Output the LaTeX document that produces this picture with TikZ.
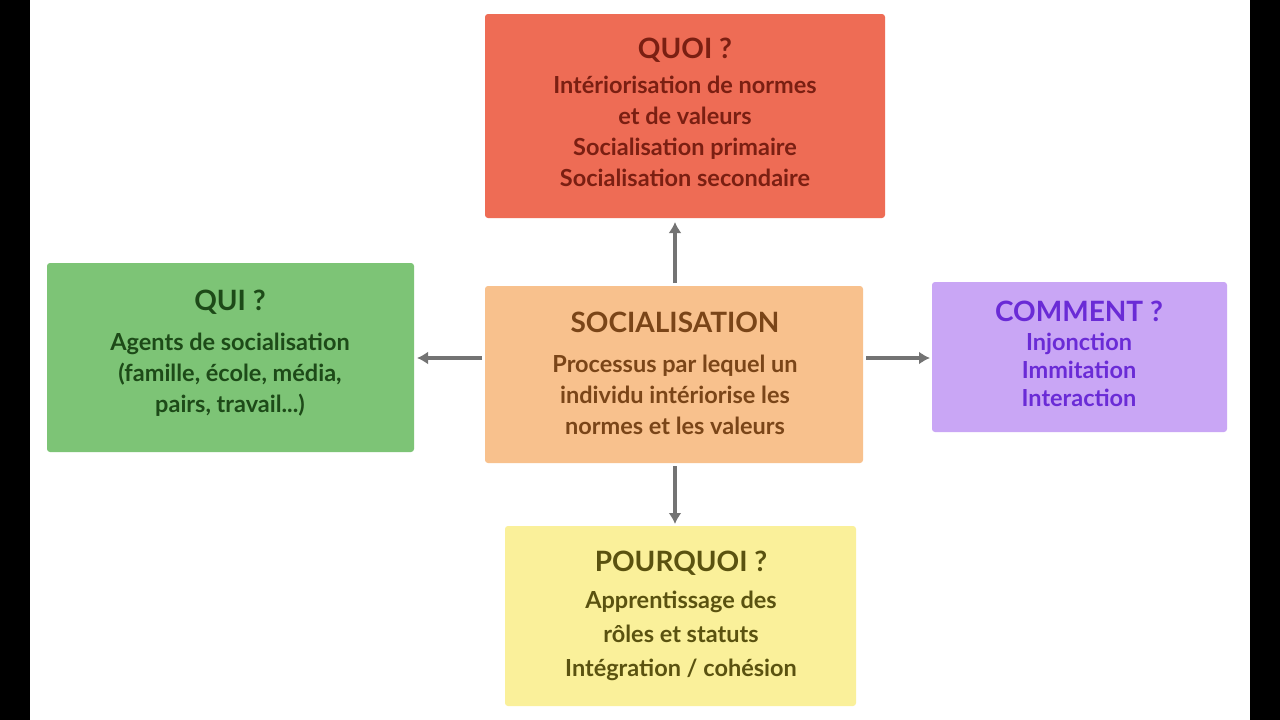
\documentclass[tikz,border=0pt]{standalone}
\usepackage{fontspec}
\setmainfont{Lato}
\begin{document}
\begin{tikzpicture}[x=1pt,y=-1pt,
  box/.style={rounded corners=3pt,inner sep=0pt},
  ttl/.style={font=\fontsize{28}{32}\selectfont\bfseries,align=center},
  bod/.style={font=\fontsize{23.5}{31}\selectfont\bfseries,align=center},
  arr/.style={draw=gray!90!black,line width=4pt,-{Latex[length=11pt,width=13pt]}}]
\usetikzlibrary{arrows.meta}
\useasboundingbox (0,0) rectangle (1280,720);
\fill[white] (0,0) rectangle (1280,720);
\fill[black] (0,0) rectangle (30,720);
\fill[black] (1250,0) rectangle (1280,720);
\definecolor{cq}{HTML}{EE6C55}\definecolor{tq}{HTML}{7A1F12}
\definecolor{cs}{HTML}{F8C18D}\definecolor{ts}{HTML}{7A4518}
\definecolor{cg}{HTML}{7DC476}\definecolor{tg}{HTML}{1D4A18}
\definecolor{cp}{HTML}{C9A6F5}\definecolor{tp}{HTML}{6A2BD6}
\definecolor{cy}{HTML}{FAF09A}\definecolor{ty}{HTML}{5A5210}
\fill[cq,box] (485,14) rectangle (885,218);
\fill[cs,box] (485,286) rectangle (863,463);
\fill[cg,box] (47,263) rectangle (414,452);
\fill[cp,box] (932,282) rectangle (1227,432);
\fill[cy,box] (505,526) rectangle (856,706);
\coordinate (qb) at (675,218); \coordinate (st) at (675,286);
\coordinate (sb) at (675,463); \coordinate (yt) at (675,526);
\coordinate (sl) at (485,358); \coordinate (gr) at (414,358);
\coordinate (sr) at (863,358); \coordinate (pl) at (932,358);
\draw[arr] (675,283) -- (675,222);
\draw[arr] (675,466) -- (675,524);
\draw[arr] (482,358) -- (417,358);
\draw[arr] (866,358) -- (930,358);
\node[ttl,text=tq] (q1) at (685,50) {QUOI ?};
\node[bod,text=tq] (q2) at (685,131) {Intériorisation de normes\\et de valeurs\\Socialisation primaire\\Socialisation secondaire};
\node[ttl,text=ts] (s1) at (675,322) {SOCIALISATION};
\node[bod,text=ts] (s2) at (675,395) {Processus par lequel un\\individu intériorise les\\normes et les valeurs};
\node[ttl,text=tg] (g1) at (230,302) {QUI ?};
\node[bod,text=tg] (g2) at (230,375) {Agents de socialisation\\(famille, école, média,\\pairs, travail...)};
\node[ttl,text=tp] (p1) at (1079,311) {COMMENT ?};
\node[bod,text=tp,font=\fontsize{23.5}{28}\selectfont\bfseries] (p2) at (1079,370) {Injonction\\Immitation\\Interaction};
\node[ttl,text=ty] (y1) at (681,563) {POURQUOI ?};
\node[bod,text=ty,font=\fontsize{23.5}{34}\selectfont\bfseries] (y2) at (681,636) {Apprentissage des\\rôles et statuts\\Intégration / cohésion};
\end{tikzpicture}
\end{document}
